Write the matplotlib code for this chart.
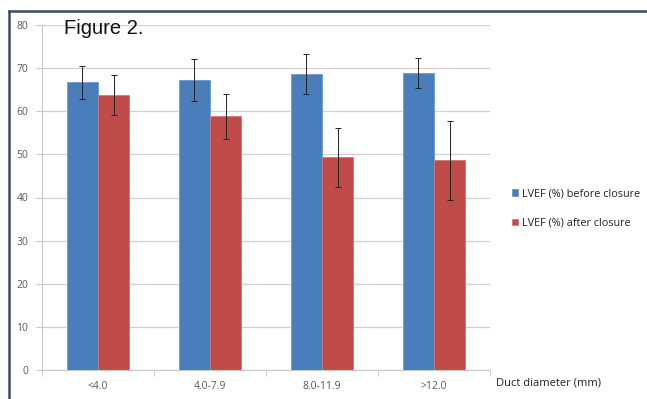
import numpy as np
import matplotlib.pyplot as plt
from matplotlib.lines import Line2D

categories = ['<4.0', '4.0-7.9', '8.0-11.9', '>12.0']
before = [66.7, 67.3, 68.7, 68.9]
before_err = [3.9, 4.9, 4.6, 3.4]
after = [63.8, 58.8, 49.3, 48.6]
after_err = [4.6, 5.2, 6.9, 9.1]

blue = '#4a7ebb'
red = '#be4b48'
grey = '#595959'

fig = plt.figure(figsize=(6.47, 3.99), dpi=100)
ax = fig.add_axes([42 / 647, 1 - 370 / 399, 448 / 647, 345 / 399])

x = np.arange(len(categories))
w = 0.28
ax.bar(x - w / 2, before, w, color=blue, edgecolor='#6f9bd1', linewidth=0.6,
       label='LVEF (%) before closure', zorder=2)
ax.bar(x + w / 2, after, w, color=red, edgecolor='#d07a78', linewidth=0.6,
       label='LVEF (%) after closure', zorder=2)
ax.errorbar(x - w / 2, before, yerr=before_err, fmt='none', ecolor='#222222',
            elinewidth=0.7, capsize=2.5, capthick=0.7, zorder=3)
ax.errorbar(x + w / 2, after, yerr=after_err, fmt='none', ecolor='#222222',
            elinewidth=0.7, capsize=2.5, capthick=0.7, zorder=3)

ax.set_xlim(-0.5, len(categories) - 0.5)
ax.set_ylim(0, 80)
ax.set_yticks(range(0, 81, 10))
ax.yaxis.grid(True, color='#d0d0d0', linewidth=0.9, zorder=0)
ax.set_axisbelow(True)
for s in ['top', 'right']:
    ax.spines[s].set_visible(False)
ax.spines['left'].set_color('#c8c8c8')
ax.spines['bottom'].set_color('#c8c8c8')

ax.set_xticks(x)
ax.set_xticklabels(categories)
ax.set_xticks(np.arange(-0.5, len(categories)), minor=True)
ax.tick_params(axis='x', which='major', length=0, pad=8, labelsize=7.5, labelcolor=grey)
ax.tick_params(axis='x', which='minor', length=4, color='#c8c8c8')
ax.tick_params(axis='y', length=4, color='#c8c8c8', labelsize=7.5, labelcolor=grey, pad=6)
for lab in ax.get_xticklabels() + ax.get_yticklabels():
    lab.set_family('Open Sans')

fig.text(496 / 647, 1 - 383 / 399, 'Duct diameter (mm)', fontsize=8, color='#222222',
         family='Open Sans', va='center', ha='left')
fig.text(64 / 647, 1 - 29 / 399, 'Figure 2.', fontsize=14.5, color='#111111',
         family='Liberation Sans', va='center', ha='left')

fig.legend(loc='upper left', bbox_to_anchor=(508 / 647, 1 - 184 / 399), frameon=False,
           prop={'family': 'Open Sans', 'size': 7.8}, handlelength=0.55, handleheight=0.55,
           handletextpad=0.35, labelspacing=1.7, borderaxespad=0, labelcolor='#222222')

# outer frame, top and left edges only
fig.add_artist(Line2D([9 / 647, 1], [1 - 11 / 399] * 2, transform=fig.transFigure,
                      color='#3b4a63', linewidth=1.8))
fig.add_artist(Line2D([9 / 647] * 2, [0, 1 - 11 / 399], transform=fig.transFigure,
                      color='#3b4a63', linewidth=1.8))

fig.savefig('out.png', dpi=100)
